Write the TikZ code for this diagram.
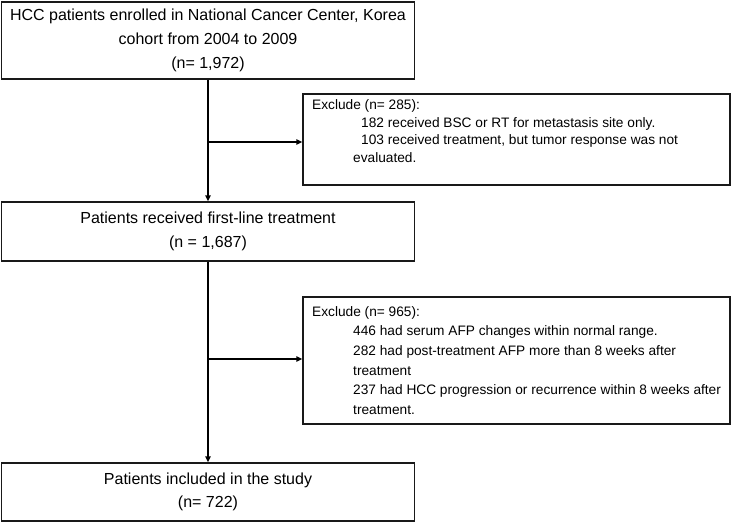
\documentclass[tikz,border=0pt]{standalone}
\usepackage{fontspec}
\setmainfont{Liberation Sans}
\usetikzlibrary{arrows.meta}
\begin{document}
\begin{tikzpicture}[x=1pt,y=-1pt,
  mainbox/.style={draw=black!90,line width=1.5pt,inner sep=0pt,align=center,
    minimum width=413pt,font=\fontsize{16}{24}\selectfont},
  exbox/.style={draw=black!90,line width=1.5pt,inner sep=0pt,minimum width=427pt},
  extext/.style={anchor=north west,inner sep=0pt,align=left},
  conn/.style={line width=1.5pt,-{Triangle[length=6pt,width=5.5pt]}}]
\useasboundingbox (0,0) rectangle (733,524);
\node[mainbox,minimum height=77pt] (b1) at (208,40.5)
  {HCC patients enrolled in National Cancer Center, Korea\\cohort from 2004 to 2009\\(n= 1,972)};
\node[mainbox,minimum height=59pt,font=\fontsize{16}{23.3}\selectfont] (b3) at (208,231.5)
  {Patients received first-line treatment\\(n = 1,687)};
\node[mainbox,minimum height=58pt,font=\fontsize{16}{23.3}\selectfont] (b5) at (208,492)
  {Patients included in the study\\(n= 722)};
\node[exbox,minimum height=91pt] (e1) at (516.5,139.5) {};
\node[exbox,minimum height=127pt] (e2) at (516.5,360.5) {};
\node[extext,font=\fontsize{13.7}{17.6}\selectfont] (t1) at (312,99.5)
  {Exclude (n= 285):\\
   \hspace*{49pt}182 received BSC or RT for metastasis site only.\\
   \hspace*{49pt}103 received treatment, but tumor response was not\\
   \hspace*{41pt}evaluated.};
\node[extext,font=\fontsize{13.7}{19.7}\selectfont] (t2) at (312,306)
  {Exclude (n= 965):\\
   \hspace*{41pt}446 had serum AFP changes within normal range.\\
   \hspace*{41pt}282 had post-treatment AFP more than 8 weeks after\\
   \hspace*{41pt}treatment\\
   \hspace*{41pt}237 had HCC progression or recurrence within 8 weeks after\\
   \hspace*{41pt}treatment.};
\coordinate (j1) at (208,142);
\coordinate (j2) at (208,359);
\draw[conn] (b1) -- (b3);
\draw[conn] (b3) -- (b5);
\draw[conn] (j1) -- (j1 -| e1.west);
\draw[conn] (j2) -- (j2 -| e2.west);
\end{tikzpicture}
\end{document}
